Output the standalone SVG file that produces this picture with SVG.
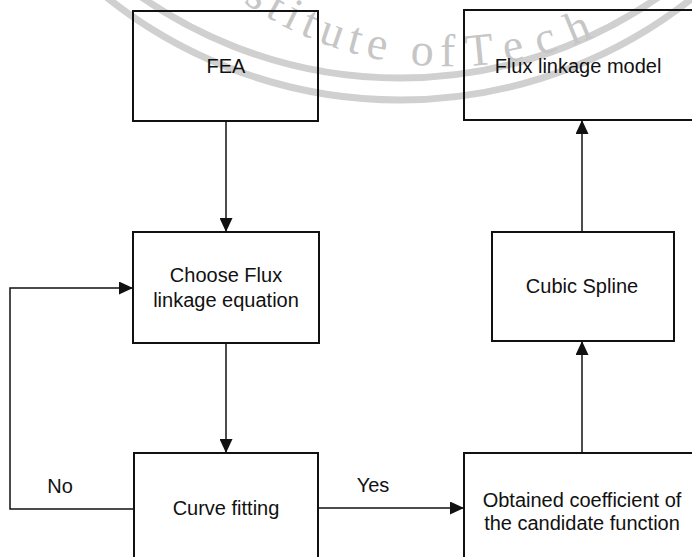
<svg xmlns="http://www.w3.org/2000/svg" width="692" height="557" viewBox="0 0 692 557">
<style>
.box{fill:none;stroke:#111;stroke-width:2}
.lbl{font-family:"Liberation Sans",Arial,sans-serif;font-size:20px;fill:#111;text-anchor:middle}
.edge{fill:none;stroke:#111;stroke-width:1.5}
.wm{fill:none;stroke:#d0d0d0;stroke-width:7}
.wmt{font-family:"Liberation Serif","Times New Roman",serif;font-size:46px;fill:#c6c6c6;letter-spacing:7px}
</style>
<defs>
<marker id="ah" viewBox="0 0 14 13" refX="14" refY="6.5" markerWidth="14" markerHeight="13" markerUnits="userSpaceOnUse" orient="auto">
<path d="M0,0 L14,6.5 L0,13 Z" fill="#111"/>
</marker>
<path id="wmpath" d="M 134,-116 A 365 365 0 0 0 766,-116"/>
</defs>
<rect width="692" height="557" fill="#fff"/>
<g id="watermark">
<circle class="wm" cx="400" cy="-375" r="453"/>
<circle class="wm" cx="400" cy="-370" r="470"/>
<text class="wmt"><textPath href="#wmpath" startOffset="162">stitute of <tspan dx="-14" letter-spacing="14">Tech</tspan></textPath></text>
</g>
<g id="connectors">
<line class="edge" x1="226" y1="121" x2="226" y2="232" marker-end="url(#ah)"/>
<line class="edge" x1="226" y1="343" x2="226" y2="453" marker-end="url(#ah)"/>
<polyline class="edge" points="134,509 10,509 10,288 133,288" marker-end="url(#ah)"/>
<line class="edge" x1="318" y1="508" x2="464" y2="508" marker-end="url(#ah)"/>
<line class="edge" x1="582" y1="453" x2="582" y2="341" marker-end="url(#ah)"/>
<line class="edge" x1="582" y1="232" x2="582" y2="120" marker-end="url(#ah)"/>
<text class="lbl" x="60" y="493">No</text>
<text class="lbl" x="373" y="492">Yes</text>
</g>
<g id="fea">
<rect class="box" x="133" y="11" width="185" height="110"/>
<text class="lbl" x="226" y="73">FEA</text>
</g>
<g id="flux-model">
<rect class="box" x="464" y="10" width="236" height="110"/>
<text class="lbl" x="578" y="73">Flux linkage model</text>
</g>
<g id="choose">
<rect class="box" x="133" y="232" width="186" height="111"/>
<text class="lbl" x="226" y="282">Choose Flux</text>
<text class="lbl" x="226" y="307">linkage equation</text>
</g>
<g id="cubic">
<rect class="box" x="492" y="232" width="182" height="109"/>
<text class="lbl" x="582" y="293">Cubic Spline</text>
</g>
<g id="curve">
<rect class="box" x="134" y="453" width="184" height="120"/>
<text class="lbl" x="226" y="515">Curve fitting</text>
</g>
<g id="obtained">
<rect class="box" x="464" y="453" width="236" height="120"/>
<text class="lbl" x="582" y="507">Obtained coefficient of</text>
<text class="lbl" x="582" y="530">the candidate function</text>
</g>
</svg>
